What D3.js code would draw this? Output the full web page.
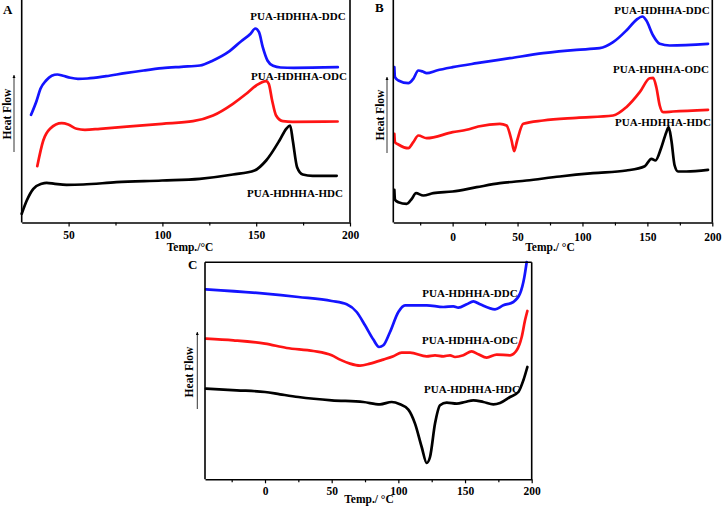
<!DOCTYPE html>
<html>
<head>
<meta charset="utf-8">
<script src="https://cdn.jsdelivr.net/npm/d3@7"></script>
<style>
  body { margin: 0; background: #fff; }
  text { font-family: "Liberation Serif", "Times New Roman", serif; font-weight: bold; }
</style>
</head>
<body>
<div id="chart"></div>
<script>
// DSC traces, heat flow in arbitrary units
var seriesNames = ["PUA-HDHHA-DDC", "PUA-HDHHA-ODC", "PUA-HDHHA-HDC"];
var seriesColors = ["#1414ff", "#ff1414", "#000000"];

var aTicks = [50, 100, 150, 200], aMinor = [75, 125, 175];
var bTicks = [0, 50, 100, 150, 200], bMinor = [-25, 25, 75, 125, 175];
var cTicks = [0, 50, 100, 150, 200], cMinor = [-25, 25, 75, 125, 175];

// panel A
var aDDC = [[30,10.77],[33,12.2],[35,13.37],[38,14.2],[41,14.67],[44,14.8],[47,14.67],[51,14.47],[55,14.37],[60,14.4],[70,14.63],[80,14.93],[90,15.2],[100,15.43],[110,15.57],[120,15.7],[127,16.2],[135,17.03],[142,18.13],[147,18.87],[149.5,19.4],[151.5,19.03],[153.5,17.53],[156,16.2],[159,15.67],[163,15.5],[170,15.47],[193.5,15.53]];
var aODC = [[33.3,5.63],[36.5,8.2],[40.1,9.37],[46.3,9.93],[49.8,9.8],[54.3,9.37],[58.7,9.27],[66.7,9.37],[84.4,9.63],[99.8,9.87],[116.3,10.13],[127,10.7],[137.6,11.87],[144.7,12.87],[150,13.7],[155.3,14.13],[156.7,13.87],[158.5,12.2],[160.6,10.7],[164.2,10.13],[169.5,10.07],[193.4,10.1]];
var aHDC = [[25,0.87],[27.7,2.2],[31.2,3.37],[35.6,3.87],[38.3,3.97],[42.7,3.87],[48.9,3.77],[57.8,3.8],[75.5,4.03],[99.8,4.2],[119.9,4.37],[137.6,4.8],[149.1,5.2],[155.3,6.2],[162.4,8.2],[166,9.37],[168.1,9.7],[169.5,8.2],[171.8,5.53],[174.8,4.8],[180.1,4.67],[192.9,4.67]];

// panel B
var bDDC = [[-44.9,15.53],[-44.4,14.53],[-41.8,14.2],[-34.1,13.93],[-30.3,14.37],[-26.4,15.2],[-23.1,15.1],[-20,14.93],[-12.3,15.2],[0,15.53],[18.5,15.93],[44.1,16.43],[69.7,16.93],[95.4,17.27],[113.3,17.43],[123.6,18.03],[133.8,19.2],[141.5,20.27],[146.2,20.6],[149.2,20.2],[154.4,18.7],[159.5,17.87],[167.2,17.7],[196.7,17.87]];
var bODC = [[-44.9,8.87],[-44.4,8.03],[-41.8,7.8],[-34.1,7.43],[-30.3,8.03],[-26.4,8.7],[-20,8.43],[0,9.03],[10.8,9.27],[19.7,9.6],[36.4,9.87],[41.5,9.7],[45.4,8.2],[47.4,7.13],[49.7,8.2],[54.4,9.87],[69.7,10.2],[95.4,10.47],[123.6,10.7],[133.8,11.53],[144.1,13.03],[151.8,14.43],[154.4,14.47],[156.9,13.53],[159.5,11.7],[162.1,11.03],[169.7,11.1],[196.7,11.27]];
var bHDC = [[-44.9,3.27],[-44.4,2.27],[-41.8,2.03],[-35.4,1.87],[-31.5,2.37],[-28.2,2.93],[-22.6,2.7],[-14.9,2.93],[0,3.1],[18.5,3.53],[36.4,3.93],[56.9,4.2],[82.6,4.6],[108.2,4.93],[133.8,5.2],[148,5.63],[153.1,6.37],[156.2,6.2],[160.8,7.53],[164.6,9.03],[166.4,9.53],[168.5,8.2],[171,5.7],[173.6,5.1],[180,5.1],[196.7,5.27]];

// panel C
var cDDC = [[-44.25,19.0],[0,18.57],[25,18.23],[50,17.83],[61.25,17.5],[68.75,16.73],[75,15.4],[81.25,13.97],[85.5,13.23],[88.75,13.4],[93.75,14.73],[100,16.73],[105,17.4],[121.25,17.4],[133.75,17.23],[141.25,17.3],[145,17.17],[151.25,17.5],[156.25,17.8],[161.25,17.5],[172.5,17.0],[178.75,17.4],[186.25,17.73],[191.25,18.57],[194.5,20.23],[196.25,21.73]];
var cODC = [[-44.25,14.07],[-23.75,13.9],[0,13.57],[16.25,13.13],[36.25,12.83],[50,12.4],[56.25,11.97],[63.75,11.57],[71.25,11.37],[78.75,11.57],[88.75,11.97],[96.25,12.3],[102.5,12.67],[108.75,12.67],[121.25,12.3],[127.5,12.4],[133.75,12.3],[138.75,12.4],[142.5,12.23],[148.75,12.4],[155,12.8],[160,12.5],[166.25,12.17],[173.75,12.47],[183.75,12.4],[188.75,12.9],[192.5,14.23],[195,15.9],[196.75,16.83]];
var cHDC = [[-44.25,9.07],[-21.25,8.9],[0,8.73],[11.25,8.5],[25,8.23],[50,7.9],[73.75,7.73],[86.25,7.5],[95,7.73],[101.25,7.5],[107.5,6.97],[112.5,5.57],[117.5,3.23],[121.25,1.63],[123.75,2.23],[127.5,5.57],[131.25,7.4],[136.25,7.67],[143.75,7.57],[150,7.73],[156.25,7.9],[163.75,7.73],[171.25,7.5],[176.25,7.63],[183.75,8.23],[190,8.73],[193.75,9.9],[196.75,11.23]];

var W = 722, H = 507;
var svg = d3.select("#chart").append("svg").attr("width", W).attr("height", H);
var defs = svg.append("defs");
defs.append("marker").attr("id", "uparrow").attr("viewBox", "0 -5 10 10").attr("refX", 10).attr("refY", 0)
  .attr("markerWidth", 4).attr("markerHeight", 4).attr("orient", "auto")
  .append("path").attr("d", "M0,-5L10,0L0,5Z").attr("fill", "#000");

var panels = [
  { letter: "A", left: 21.7, right: 350, top: 0, bottom: 222.5, frameTop: false,
    xDom: [25, 200], yDom: [0, 22.25], ticks: aTicks, minor: aMinor, pad: 4,
    title: "Temp./\u00b0C", titleX: 190, titleY: 251,
    letterX: 3, letterY: 14, hfX: 11, hfY: 114, arrX: 14, arrY0: 152, arrY1: 75,
    data: [aDDC, aODC, aHDC], labels: [[298, 20], [299, 80], [295, 197]] },
  { letter: "B", left: 393.3, right: 712.3, top: 0, bottom: 222.5, frameTop: false,
    xDom: [-45.7, 200], yDom: [0, 22.25], ticks: bTicks, minor: bMinor, pad: 6.5,
    title: "Temp./ \u00b0C", titleX: 550, titleY: 251,
    letterX: 375, letterY: 12, hfX: 384, hfY: 115, arrX: 387, arrY0: 153, arrY1: 77,
    data: [bDDC, bODC, bHDC], labels: [[662, 14], [661, 73], [663, 126]] },
  { letter: "C", left: 205, right: 531.7, top: 262.3, bottom: 479.3, frameTop: true,
    xDom: [-45, 200], yDom: [0, 21.7], ticks: cTicks, minor: cMinor, pad: 3.5,
    title: "Temp./ \u00b0C", titleX: 369, titleY: 503,
    letterX: 188, letterY: 269, hfX: 193, hfY: 372, arrX: 197.3, arrY0: 409, arrY1: 332,
    data: [cDDC, cODC, cHDC], labels: [[470, 297], [470, 344], [472, 393]] }
];

panels.forEach(function (p) {
  var g = svg.append("g");
  var x = d3.scaleLinear().domain(p.xDom).range([p.left, p.right]);
  var y = d3.scaleLinear().domain(p.yDom).range([p.bottom, p.bottom - (p.yDom[1] - p.yDom[0]) * 10]);

  var line = d3.line().x(function (d) { return x(d[0]); }).y(function (d) { return y(d[1]); })
    .curve(d3.curveMonotoneX);

  p.data.forEach(function (s, i) {
    g.append("path").datum(s).attr("d", line).attr("fill", "none")
      .attr("stroke", seriesColors[i]).attr("stroke-width", 2.7)
      .attr("stroke-linejoin", "round").attr("stroke-linecap", "round");
  });

  // frame
  g.append("line").attr("x1", p.left).attr("x2", p.left).attr("y1", p.top).attr("y2", p.bottom)
    .attr("stroke", "#000").attr("stroke-width", 1.6);
  g.append("line").attr("x1", p.right).attr("x2", p.right).attr("y1", p.top).attr("y2", p.bottom)
    .attr("stroke", "#000").attr("stroke-width", 1.6);
  if (p.frameTop) {
    g.append("line").attr("x1", p.left).attr("x2", p.right).attr("y1", p.top).attr("y2", p.top)
      .attr("stroke", "#000").attr("stroke-width", 1.6);
  }

  var minorAxis = g.append("g").attr("transform", "translate(0," + p.bottom + ")")
    .call(d3.axisBottom(x).tickValues(p.minor).tickSize(3).tickSizeOuter(0).tickFormat(""));
  minorAxis.select(".domain").remove();
  var axis = g.append("g").attr("transform", "translate(0," + p.bottom + ")")
    .call(d3.axisBottom(x).tickValues(p.ticks).tickSize(4).tickSizeOuter(0).tickPadding(p.pad));
  axis.select(".domain").attr("stroke-width", 1.6);
  axis.selectAll("text").style("font-size", "11.5px").attr("fill", "#000")
    .style("font-family", "'Liberation Serif', serif").style("font-weight", "bold");
  g.selectAll(".tick line").attr("stroke-width", 1.2);

  g.append("text").attr("x", p.titleX).attr("y", p.titleY).attr("text-anchor", "middle")
    .style("font-size", "11.5px").text(p.title);

  g.append("text").attr("x", p.letterX).attr("y", p.letterY).style("font-size", "13px").text(p.letter);

  // heat flow arrow
  g.append("text").attr("transform", "translate(" + p.hfX + "," + p.hfY + ") rotate(-90)")
    .attr("text-anchor", "middle").style("font-size", "11.5px").text("Heat Flow");
  g.append("line").attr("x1", p.arrX).attr("x2", p.arrX).attr("y1", p.arrY0).attr("y2", p.arrY1)
    .attr("stroke", "#000").attr("stroke-width", 0.8).attr("marker-end", "url(#uparrow)");

  p.labels.forEach(function (l, i) {
    g.append("text").attr("x", l[0]).attr("y", l[1]).attr("text-anchor", "middle")
      .style("font-size", "11px").text(seriesNames[i]);
  });
});
</script>
</body>
</html>
